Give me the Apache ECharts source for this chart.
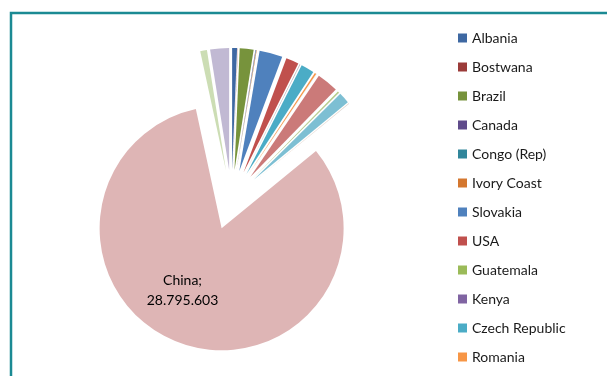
<!DOCTYPE html>
<html>
<head>
<meta charset="utf-8">
<script src="https://cdn.jsdelivr.net/npm/echarts@6/dist/echarts.min.js"></script>
<style>
  html, body { margin: 0; padding: 0; background: #ffffff; }
  #chart { width: 607px; height: 376px; }
</style>
</head>
<body>
<div id="chart"></div>
<script>
// Production by country, in slice order (clockwise from 12 o'clock)
const countries = [
  'Albania', 'Bostwana', 'Brazil', 'Canada', 'Congo (Rep)', 'Ivory Coast',
  'Slovakia', 'USA', 'Guatemala', 'Kenya', 'Czech Republic', 'Romania',
  'Other 13', 'Other 14', 'Other 15', 'Other 16', 'Other 17', 'Other 18',
  'Other 19', 'China', 'Other 21', 'Other 22'
];
const production = [
  226700, 9690, 639470, 19380, 14530, 19380,
  1065780, 591020, 9690, 9690, 610400, 77510,
  9690, 997960, 67820, 9690, 513510, 9690,
  9690, 28795603, 310040, 872000
];
// Entries shown in the legend
const legendNames = countries.slice(0, 12);
// Slice colours, same order as countries
const palette = [
  '#3E68A2', '#9B3B39', '#77933C', '#5F4B8B', '#31869B', '#D4772F',
  '#4F81BD', '#C0504D', '#9BBB59', '#8064A2', '#4BACC6', '#F79646',
  '#95B3D7', '#CB7A79', '#B3CB84', '#A596C0', '#7DBFD3', '#F9B27A',
  '#B9CDE5', '#DEB5B5', '#CCDDB4', '#C1B9D3'
];
const labelled = 'China';

function dotThousands(v) {
  return String(Math.round(v)).replace(/\B(?=(\d{3})+(?!\d))/g, '.');
}

const chart = echarts.init(document.getElementById('chart'), null, { renderer: 'canvas' });

const pieData = countries.map((name, i) => ({
  name: name,
  value: production[i],
  selected: true,
  itemStyle: { color: palette[i] },
  label: { show: name === labelled }
}));

chart.setOption({
  animation: false,
  backgroundColor: '#ffffff',
  textStyle: { fontFamily: 'Lato, "Liberation Sans", sans-serif' },
  graphic: [{
    type: 'polyline',
    silent: true,
    shape: { points: [[11, 376], [11, 13], [607, 13]] },
    style: { stroke: '#1B8A93', lineWidth: 2.5, fill: null }
  }],
  legend: {
    orient: 'vertical',
    left: 458,
    top: 30,
    padding: 0,
    itemWidth: 9,
    itemHeight: 9,
    itemGap: 13,
    icon: 'rect',
    selectedMode: false,
    data: legendNames,
    textStyle: {
      fontFamily: 'Lato, "Liberation Sans", sans-serif',
      fontSize: 14,
      lineHeight: 16,
      color: '#1a1a1a'
    }
  },
  series: [{
    type: 'pie',
    center: [231.5, 200],
    radius: 122,
    startAngle: 90,
    clockwise: true,
    selectedMode: 'multiple',
    selectedOffset: 30,
    avoidLabelOverlap: false,
    silent: true,
    emphasis: { disabled: true },
    select: { disabled: false },
    itemStyle: { borderWidth: 0 },
    label: {
      show: false,
      position: 'inside',
      color: '#000000',
      fontFamily: 'Lato, "Liberation Sans", sans-serif',
      fontSize: 14,
      lineHeight: 20,
      formatter: p => p.name + ';\n' + dotThousands(p.value)
    },
    labelLine: { show: false },
    labelLayout: p => (p.dataIndex === countries.indexOf(labelled) ? { dx: -18, dy: 2 } : {}),
    data: pieData
  }]
});
</script>
</body>
</html>
